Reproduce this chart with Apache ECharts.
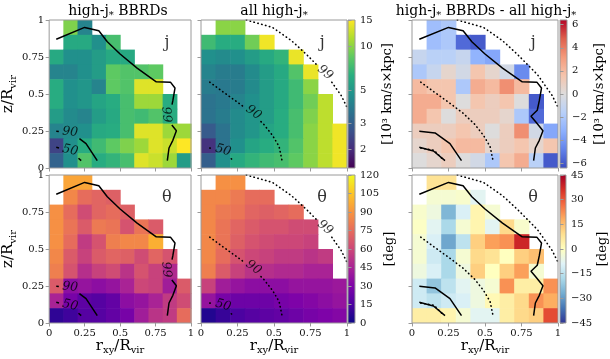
<!DOCTYPE html>
<html>
<head>
<meta charset="utf-8">
<title>high-j BBRDs maps</title>
<script src="https://cdn.jsdelivr.net/npm/echarts@6.0.0/dist/echarts.min.js"></script>
<style>
html, body { margin: 0; padding: 0; background: #fff; }
#chart { width: 610px; height: 359px; }
</style>
</head>
<body>
<div id="chart"></div>
<script>
// every map: rows from z/Rvir = 0.9-1.0 (top) down to 0-0.1, columns r/Rvir = 0 .. 0.9
// j in 10^3 km/s x kpc
var jBbrd = [
  [null, 9.5, 4.2, null, null, null, null, null, null, null],
  [null, 6.0, 6.0, 4.7, 7.5, null, null, null, null, null],
  [6.0, 4.7, 4.7, 5.3, 6.0, 6.0, null, null, null, null],
  [4.2, 4.2, 4.7, 5.3, 8.4, 7.9, 7.9, 8.4, null, null],
  [6.2, 4.7, 5.0, 4.2, 8.4, 7.9, 13.4, 13.4, null, null],
  [6.2, 4.7, 5.0, 5.7, 6.2, 7.5, 10.6, 10.6, 6.2, null],
  [5.3, 4.5, 4.2, 5.3, 6.0, 7.5, 7.2, 7.9, 6.2, null],
  [4.2, 4.5, 4.7, 6.0, 6.2, 7.5, 13.4, 13.4, 10.6, 10.6],
  [2.4, 4.7, 6.2, 7.2, 8.4, 9.5, 10.6, 13.4, 12.5, 15.0],
  [3.1, 4.7, 7.9, 6.2, 6.7, 7.5, 13.4, 12.5, 10.6, 5.3]
];
var jAll = [
  [null, 9.9, 9.9, null, null, null, null, null, null, null],
  [7.2, 6.2, 6.2, 9.0, 14.3, null, null, null, null, null],
  [4.7, 4.5, 4.7, 5.3, 6.0, 6.7, 14.0, null, null, null],
  [4.2, 3.9, 3.9, 4.5, 5.3, 6.0, 7.9, 14.0, null, null],
  [3.9, 3.8, 3.9, 4.5, 5.3, 6.0, 7.2, 9.9, null, null],
  [3.6, 3.8, 4.2, 4.7, 5.3, 6.0, 7.2, 9.0, 11.9, null],
  [3.6, 3.9, 4.5, 5.0, 5.3, 6.2, 7.5, 9.5, 11.9, null],
  [2.9, 3.6, 4.5, 5.0, 5.7, 6.2, 7.5, 9.9, 11.9, 14.3],
  [2.1, 3.6, 4.7, 5.7, 6.2, 6.7, 7.9, 9.9, 11.9, 14.3],
  [3.0, 4.7, 6.0, 6.7, 7.2, 7.5, 8.4, 9.9, 11.9, 14.3]
];
var jDiff = [
  [null, -2.5, -2.0, null, null, null, null, null, null, null],
  [null, -2.5, -2.0, -5.5, -6.0, null, null, null, null, null],
  [-1.0, -1.5, -1.5, -1.0, -3.0, -3.5, null, null, null, null],
  [-2.0, -1.0, 0.5, -0.5, 1.5, 0.5, -0.5, -4.5, null, null],
  [2.0, 1.5, 1.5, -2.0, 2.5, 2.0, 3.5, 2.0, null, null],
  [2.5, 2.5, 1.5, 0.0, 1.5, 1.0, 1.5, 0.0, -6.0, null],
  [2.5, 1.5, 0.0, 1.0, 1.0, 1.0, 0.5, -2.0, -5.5, null],
  [1.0, 1.0, 1.0, 1.5, 1.0, 0.0, 1.0, 3.5, -0.5, -3.5],
  [0.5, 1.0, 1.5, 2.0, 2.0, 0.5, 1.0, 1.5, 0.5, 1.5],
  [0.0, 0.5, 1.0, 0.0, -0.5, -2.0, 1.5, 2.5, -1.5, -6.0]
];
// theta in deg
var thBbrd = [
  [null, 95, 95, null, null, null, null, null, null, null],
  [null, 85, 75, 72, 70, null, null, null, null, null],
  [88, 75, 62, 72, 75, 70, null, null, null, null],
  [88, 78, 68, 80, 78, 65, 78, 68, null, null],
  [88, 75, 55, 65, 82, 85, 85, 98, null, null],
  [85, 68, 58, 68, 72, 70, 62, 72, 65, null],
  [82, 65, 50, 58, 62, 52, 65, 58, 48, null],
  [68, 35, 38, 35, 38, 45, 60, 58, 42, 68],
  [45, 28, 20, 18, 22, 35, 38, 45, 55, 62],
  [8, 12, 18, 18, 22, 28, 42, 52, 55, 75]
];
var thAll = [
  [null, 88, 88, null, null, null, null, null, null, null],
  [85, 85, 80, 75, 75, null, null, null, null, null],
  [85, 80, 78, 72, 70, 72, 75, null, null, null],
  [85, 78, 72, 68, 65, 65, 62, 62, null, null],
  [85, 78, 70, 65, 62, 60, 60, 58, null, null],
  [85, 75, 65, 60, 58, 55, 55, 52, 55, null],
  [82, 68, 58, 52, 50, 48, 48, 45, 45, null],
  [58, 42, 38, 35, 35, 35, 38, 38, 38, 40],
  [38, 28, 25, 25, 25, 28, 30, 32, 35, 38],
  [5, 10, 15, 18, 20, 22, 25, 28, 30, 32]
];
var thDiff = [
  [null, 8, 8, null, null, null, null, null, null, null],
  [null, -3, -3, -2, -8, null, null, null, null, null],
  [-2, -5, -25, -10, 3, -3, null, null, null, null],
  [-1, -8, -18, -3, 3, -8, 10, -2, null, null],
  [-3, -10, -28, -15, 12, 20, 22, 38, null, null],
  [-3, -12, -18, -3, 10, 8, 0, 12, 15, null],
  [-5, -10, -18, -5, 12, 0, 12, 20, -3, null],
  [-12, -22, -15, -8, -5, -3, 22, 5, 5, 22],
  [-12, -15, -12, -10, -5, 2, 5, 10, 22, 18],
  [5, 5, 3, -3, -8, -8, 5, 10, 12, 32]
];

var cellSize = 0.1;
var jRange = [1.5, 15];
var jTicks = [2, 3, 5, 10, 15];
var jDiffRange = [-6.4, 6.4];
var jDiffTicks = [-6, -4, -2, 0, 2, 4, 6];
var thRange = [0, 120];
var thTicks = [0, 15, 30, 45, 60, 75, 90, 105, 120];
var thDiffRange = [-45, 45];
var thDiffTicks = [-45, -30, -15, 0, 15, 30, 45];

// contours [r, z]; solid = high-j BBRDs, dotted = all high-j
var contourNames = ['99', '90', '50'];
var bbrd99 = [[0.05, 0.87], [0.25, 0.95], [0.35, 0.927], [0.41, 0.853], [0.5, 0.77], [0.62, 0.675], [0.755, 0.582], [0.855, 0.58], [0.887, 0.54], [0.872, 0.455], [0.858, 0.39], [0.815, 0.35], [0.847, 0.312], [0.897, 0.252], [0.872, 0.187], [0.845, 0.135], [0.833, 0.05]];
var bbrd90 = [[0.05, 0.248], [0.158, 0.237], [0.26, 0.165], [0.339, 0.05]];
var bbrd50 = [[0.05, 0.14], [0.147, 0.115], [0.226, 0.05]];
var all99 = [[0.31, 1.0], [0.49, 0.95], [0.62, 0.86], [0.72, 0.77], [0.8, 0.69], [0.86, 0.63], [0.91, 0.56], [0.96, 0.49], [1.0, 0.41]];
var all90 = [[0.06, 0.58], [0.15, 0.515], [0.27, 0.43], [0.35, 0.37], [0.43, 0.295], [0.49, 0.22], [0.535, 0.145], [0.555, 0.05]];
var all50 = [[0.06, 0.135], [0.15, 0.12], [0.22, 0.05]];
// label [r, z, rotation]
var bbrdLabels = [[0.825, 0.36, -85], [0.148, 0.244, -5], [0.148, 0.12, -12]];
var allLabels = [[0.85, 0.645, -40], [0.36, 0.375, -35], [0.152, 0.12, -15]];

var viridis = ['#440154', '#472d7b', '#3b528b', '#2c728e', '#21918c', '#28ae80', '#5ec962', '#addc30', '#fde725'];
var plasma = ['#0d0887', '#4c02a1', '#7e03a8', '#a92395', '#cc4778', '#e66c5c', '#f89540', '#fdc527', '#f0f921'];
var coolwarm = ['#3b4cc0', '#6282ea', '#8db0fe', '#b8d0f9', '#dddcdc', '#f5c4ac', '#f49a7b', '#de604d', '#b40426'];
var rdylbu = ['#313695', '#4575b4', '#74add1', '#abd9e9', '#e0f3f8', '#ffffbf', '#fee090', '#fdae61', '#f46d43', '#d73027', '#a50026'];

var FONT = 'DejaVu Serif';
var SPINE = '#9a9a9a';
var INK = '#111';
var PW = 146, PH = 148;
var boxes = [[45, 20], [201, 20], [412, 20], [45, 175], [201, 175], [412, 175]];
var cbBoxes = [[348, 20], [560, 20], [348, 175], [560, 175]];

var chart = echarts.init(document.getElementById('chart'));

var log10 = function (v) { return Math.log(v) / Math.LN10; };
var minus = function (s) { return String(s).replace('-', '\u2212'); };

var toCells = function (rows, isLog) {
  var out = [];
  rows.forEach(function (row, k) {
    var r = rows.length - 1 - k;
    row.forEach(function (v, c) {
      if (v == null) return;
      var x = +(c * cellSize).toFixed(2), y = +(r * cellSize).toFixed(2);
      out.push(isLog ? [x, y, v, log10(v)] : [x, y, v]);
    });
  });
  return out;
};

// cut a polyline where it runs under a contour label
var clipPieces = function (pts, c, r) {
  var pieces = [], cur = [];
  for (var i = 0; i < pts.length - 1; i++) {
    var a = pts[i], b = pts[i + 1];
    var dx = b[0] - a[0], dy = b[1] - a[1], fx = a[0] - c[0], fy = a[1] - c[1];
    var A = dx * dx + dy * dy, B = 2 * (fx * dx + fy * dy), C = fx * fx + fy * fy - r * r;
    var ts = [0, 1], D = B * B - 4 * A * C;
    if (D > 0) {
      var s = Math.sqrt(D);
      [(-B - s) / (2 * A), (-B + s) / (2 * A)].forEach(function (t) { if (t > 0 && t < 1) ts.push(t); });
    }
    ts.sort(function (p, q) { return p - q; });
    for (var k = 0; k < ts.length - 1; k++) {
      var tm = (ts[k] + ts[k + 1]) / 2;
      var mx = a[0] + dx * tm - c[0], my = a[1] + dy * tm - c[1];
      if (mx * mx + my * my < r * r) { if (cur.length > 1) pieces.push(cur); cur = []; continue; }
      if (!cur.length) cur.push([a[0] + dx * ts[k], a[1] + dy * ts[k]]);
      cur.push([a[0] + dx * ts[k + 1], a[1] + dy * ts[k + 1]]);
    }
  }
  if (cur.length > 1) pieces.push(cur);
  return pieces;
};

var panels = [
  { rows: jBbrd, log: true, range: jRange, cmap: viridis, mode: 'bbrd', tag: 'j' },
  { rows: jAll, log: true, range: jRange, cmap: viridis, mode: 'all', tag: 'j' },
  { rows: jDiff, log: false, range: jDiffRange, cmap: coolwarm, mode: 'both', tag: 'j' },
  { rows: thBbrd, log: false, range: thRange, cmap: plasma, mode: 'bbrd', tag: '\u03b8' },
  { rows: thAll, log: false, range: thRange, cmap: plasma, mode: 'all', tag: '\u03b8' },
  { rows: thDiff, log: false, range: thDiffRange, cmap: rdylbu, mode: 'both', tag: '\u03b8' }
];

var unitJ = '[10\u00b3 km/s\u00d7kpc]';
var colorbars = [
  { range: [log10(jRange[0]), log10(jRange[1])], cmap: viridis, ticks: jTicks.map(log10), fmt: function (v) { return String(Math.round(Math.pow(10, v))); }, name: unitJ },
  { range: jDiffRange, cmap: coolwarm, ticks: jDiffTicks, fmt: minus, name: unitJ },
  { range: thRange, cmap: plasma, ticks: thTicks, fmt: minus, name: '[deg]' },
  { range: thDiffRange, cmap: rdylbu, ticks: thDiffTicks, fmt: minus, name: '[deg]' }
];

var renderCell = function (params, api) {
  var x = api.value(0), y = api.value(1);
  var p0 = api.coord([x, y + cellSize]), p1 = api.coord([x + cellSize, y]);
  return { type: 'rect', shape: { x: p0[0], y: p0[1], width: p1[0] - p0[0] + 0.6, height: p1[1] - p0[1] + 0.6 },
    style: { fill: api.visual('color') } };
};

var rich = {
  a: { fontFamily: FONT, fontSize: 15, color: '#000' },
  s: { fontFamily: FONT, fontSize: 10, color: '#000', padding: [9, 0, 0, 0] }
};

var grids = [], xAxes = [], yAxes = [], series = [], visualMaps = [];

boxes.forEach(function (b, i) {
  grids.push({ left: b[0], top: b[1], width: PW, height: PH, show: true, borderColor: SPINE, borderWidth: 1, z: 4 });
  var bottomRow = i >= 3, leftCol = i % 3 === 0;
  var x = { type: 'value', gridIndex: i, min: 0, max: 1, interval: 0.25, z: 4,
    axisLine: { show: false }, splitLine: { show: false },
    axisTick: { show: true, length: 3.5, lineStyle: { color: SPINE } },
    axisLabel: { show: bottomRow, margin: 5, fontFamily: FONT, fontSize: 10, color: INK } };
  if (bottomRow) {
    x.name = '{a|r}{s|xy}{a|/R}{s|vir}';
    x.nameLocation = 'middle';
    x.nameGap = 12;
    x.nameTextStyle = { fontFamily: FONT, fontSize: 15, color: '#000', verticalAlign: 'top', rich: rich };
  }
  var y = { type: 'value', gridIndex: i, min: 0, max: 1, interval: 0.25, z: 4,
    axisLine: { show: false }, splitLine: { show: false },
    axisTick: { show: true, length: 3.5, lineStyle: { color: SPINE } },
    axisLabel: { show: leftCol, margin: 5, fontFamily: FONT, fontSize: 10, color: INK } };
  if (leftCol) {
    y.name = '{a|z/R}{s|vir}';
    y.nameLocation = 'middle';
    y.nameRotate = 90;
    y.nameGap = 28;
    y.nameTextStyle = { fontFamily: FONT, fontSize: 15, color: '#000', rich: rich };
  }
  xAxes.push(x);
  yAxes.push(y);
});

// heat layers first so series index == panel index
panels.forEach(function (p, i) {
  series.push({ type: 'custom', xAxisIndex: i, yAxisIndex: i, data: toCells(p.rows, p.log),
    encode: { x: 0, y: 1 }, renderItem: renderCell, silent: true, z: 1, clip: true, animation: false });
  visualMaps.push({ type: 'continuous', show: false, seriesIndex: i, dimension: p.log ? 3 : 2,
    min: p.log ? log10(p.range[0]) : p.range[0], max: p.log ? log10(p.range[1]) : p.range[1],
    inRange: { color: p.cmap } });
});

var addLine = function (i, pts, dotted) {
  series.push({ type: 'line', xAxisIndex: i, yAxisIndex: i, data: pts, symbol: 'none', silent: true, z: 2,
    animation: false, clip: true,
    lineStyle: { color: '#000', width: dotted ? 1.6 : 1.5, type: dotted ? [0.4, 3.6] : 'solid', cap: dotted ? 'round' : 'butt' } });
};

var addLabels = function (i, items, size, italic) {
  series.push({ type: 'scatter', xAxisIndex: i, yAxisIndex: i, symbolSize: 0, silent: true, z: 3, animation: false,
    data: items.map(function (it) { return { name: it.name, value: [it.x, it.y], label: { rotate: it.rot || 0 } }; }),
    label: { show: true, position: 'inside', formatter: '{b}', fontFamily: FONT, fontSize: size,
      fontStyle: italic ? 'italic' : 'normal', color: '#000' } });
};

var bbrdSet = [bbrd99, bbrd90, bbrd50];
var allSet = [all99, all90, all50];

panels.forEach(function (p, i) {
  if (p.mode === 'bbrd' || p.mode === 'all') {
    var set = p.mode === 'bbrd' ? bbrdSet : allSet;
    var labs = p.mode === 'bbrd' ? bbrdLabels : allLabels;
    set.forEach(function (pts, k) {
      clipPieces(pts, labs[k], 0.08).forEach(function (piece) { addLine(i, piece, p.mode === 'all'); });
    });
    addLabels(i, labs.map(function (l, k) { return { name: contourNames[k], x: l[0], y: l[1], rot: l[2] }; }), 12.5, true);
  } else {
    bbrdSet.forEach(function (pts) { addLine(i, pts, false); });
    allSet.forEach(function (pts) { addLine(i, pts, true); });
  }
  addLabels(i, [{ name: p.tag, x: 0.83, y: 0.845 }], 16, false);
});

// colorbars
colorbars.forEach(function (cb, k) {
  var gi = boxes.length + k, b = cbBoxes[k];
  var stops = cb.cmap.map(function (c, n) { return { offset: n / (cb.cmap.length - 1), color: c }; });
  grids.push({ left: b[0], top: b[1], width: 7, height: PH, show: true, borderColor: SPINE, borderWidth: 1, z: 4 });
  xAxes.push({ type: 'value', gridIndex: gi, min: 0, max: 1, show: false });
  yAxes.push({ type: 'value', gridIndex: gi, min: cb.range[0], max: cb.range[1], position: 'right', z: 4,
    axisLine: { show: false }, splitLine: { show: false },
    axisTick: { show: true, length: 3.5, lineStyle: { color: SPINE }, customValues: cb.ticks },
    axisLabel: { show: true, margin: 5, fontFamily: FONT, fontSize: 10, color: INK, customValues: cb.ticks, formatter: cb.fmt },
    name: cb.name, nameLocation: 'middle', nameRotate: 90, nameGap: 26,
    nameTextStyle: { fontFamily: FONT, fontSize: 13, color: '#000' } });
  series.push({ type: 'custom', xAxisIndex: gi, yAxisIndex: gi, data: [[0, cb.range[0], 1, cb.range[1]]],
    encode: { x: 0, y: 1 }, silent: true, z: 1, animation: false,
    renderItem: function (params, api) {
      var p0 = api.coord([api.value(0), api.value(3)]), p1 = api.coord([api.value(2), api.value(1)]);
      return { type: 'rect', shape: { x: p0[0], y: p0[1], width: p1[0] - p0[0], height: p1[1] - p0[1] },
        style: { fill: { type: 'linear', x: 0, y: 1, x2: 0, y2: 0, colorStops: stops } } };
    } });
});

var titleRich = {
  a: { fontFamily: FONT, fontSize: 14, color: '#000' },
  s: { fontFamily: FONT, fontSize: 10, color: '#000', padding: [8, 0, 0, 0] }
};
var titles = [
  ['{a|high-j}{s|*}{a| BBRDs}', 118],
  ['{a|all high-j}{s|*}', 274],
  ['{a|high-j}{s|*}{a| BBRDs - all high-j}{s|*}', 486]
];

var option = {
  backgroundColor: '#fff',
  animation: false,
  grid: grids,
  xAxis: xAxes,
  yAxis: yAxes,
  visualMap: visualMaps,
  series: series,
  graphic: titles.map(function (t) {
    return { type: 'text', x: t[1], y: 11, z: 10,
      style: { text: t[0], align: 'center', verticalAlign: 'middle', rich: titleRich } };
  })
};

if (option && typeof option === 'object') chart.setOption(option, true);
window.addEventListener('resize', function () { chart.resize(); });
</script>
</body>
</html>
